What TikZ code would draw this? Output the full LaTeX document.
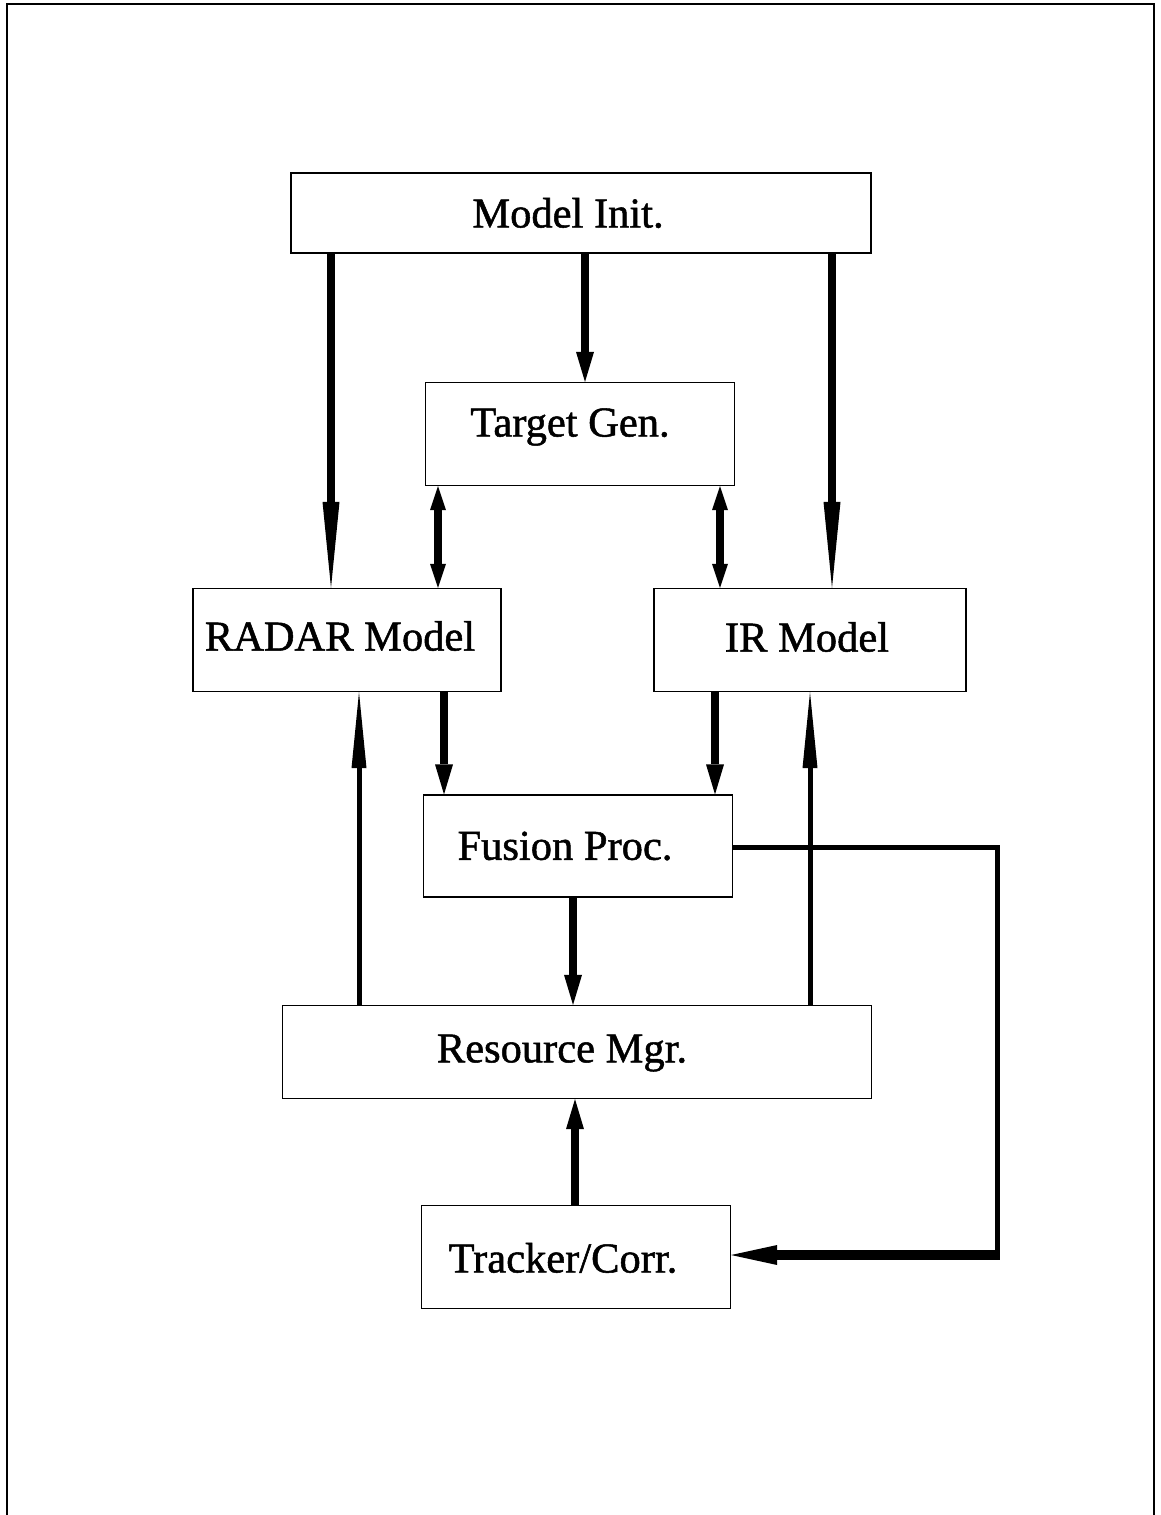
\documentclass[tikz,border=0pt]{standalone}
\usepackage{fontspec}
\setmainfont{Liberation Serif}
\newfontfamily\blockfont{Liberation Serif}[FakeBold=1.2]
\usetikzlibrary{arrows.meta}
\begin{document}
\begin{tikzpicture}[x=1pt,y=-1pt,
  every label/.style={font=\blockfont\fontsize{42.5}{44}\selectfont},
  box/.style={draw,line width=1.2pt,inner sep=0pt},
  longhead/.style={line width=8pt,-{Triangle[length=86pt,width=17pt,line width=0pt]}},
  midhead/.style={line width=8pt,-{Triangle[length=30pt,width=18pt,line width=0pt]}},
  twohead/.style={line width=8pt,{Triangle[length=24pt,width=16pt,line width=0pt]}-{Triangle[length=24pt,width=16pt,line width=0pt]}},
  thinup/.style={line width=5pt,-{Triangle[length=76pt,width=15pt,line width=0pt]}},
  feed/.style={line width=5pt},
  feedhead/.style={line width=10pt,-{Triangle[length=46pt,width=20pt,line width=0pt]}}]
\useasboundingbox (0,0) rectangle (1160,1515);
% page frame, open at the bottom
\draw[line width=2pt] (7,1515) -- (7,4) -- (1154,4) -- (1154,1515);

% blocks
\node[box,minimum width=580pt,minimum height=80pt,label={[xshift=-13pt]center:Model Init.}] (mi) at (581,213) {};
\node[box,minimum width=309pt,minimum height=103pt,label={[xshift=-10pt,yshift=7pt]center:Target Gen.}] (tg) at (580,434) {};
\node[box,minimum width=308pt,minimum height=103pt,label={[xshift=-7pt,yshift=4pt]center:RADAR Model}] (rm) at (347,640) {};
\node[box,minimum width=312pt,minimum height=103pt,label={[xshift=-3pt,yshift=3pt]center:IR Model}] (ir) at (810,640) {};
\node[box,minimum width=309pt,minimum height=102pt,label={[xshift=-13pt]center:Fusion Proc.}] (fp) at (578,846) {};
\node[box,minimum width=589pt,minimum height=93pt,label={[xshift=-15pt,yshift=-1pt]center:Resource Mgr.}] (rs) at (577,1052) {};
\node[box,minimum width=309pt,minimum height=103pt,label={[xshift=-13pt,yshift=-1pt]center:Tracker/Corr.}] (tc) at (576,1257) {};

% initialisation links
\draw[longhead] (mi.south -| 331,0) -- (rm.north -| 331,0);
\draw[midhead] (mi.south -| 585,0) -- (tg.north -| 585,0);
\draw[longhead] (mi.south -| 832,0) -- (ir.north -| 832,0);

% target generator exchanges
\draw[twohead] (tg.south -| 438,0) -- (rm.north -| 438,0);
\draw[twohead] (tg.south -| 720,0) -- (ir.north -| 720,0);

% sensor outputs to fusion
\draw[midhead] (rm.south -| 444,0) -- (fp.north -| 444,0);
\draw[midhead] (ir.south -| 715,0) -- (fp.north -| 715,0);

% resource manager tasking
\draw[thinup] (rs.north -| 359,0) -- (rm.south -| 359,0);
\draw[thinup] (rs.north -| 810,0) -- (ir.south -| 810,0);

% fusion to resource manager
\draw[midhead] (fp.south -| 573,0) -- (rs.north -| 573,0);

% tracker to resource manager
\draw[midhead] (tc.north -| 575,0) -- (rs.south -| 575,0);

% fusion to tracker loop
\coordinate (c1) at (997,847);
\coordinate (c2) at (997,1255);
\draw[feed] (fp.east |- c1) -- (c1) -- ([yshift=3pt]c2);
\draw[feedhead] ([xshift=2.5pt]c2) -- (tc.east |- c2);
\end{tikzpicture}
\end{document}
